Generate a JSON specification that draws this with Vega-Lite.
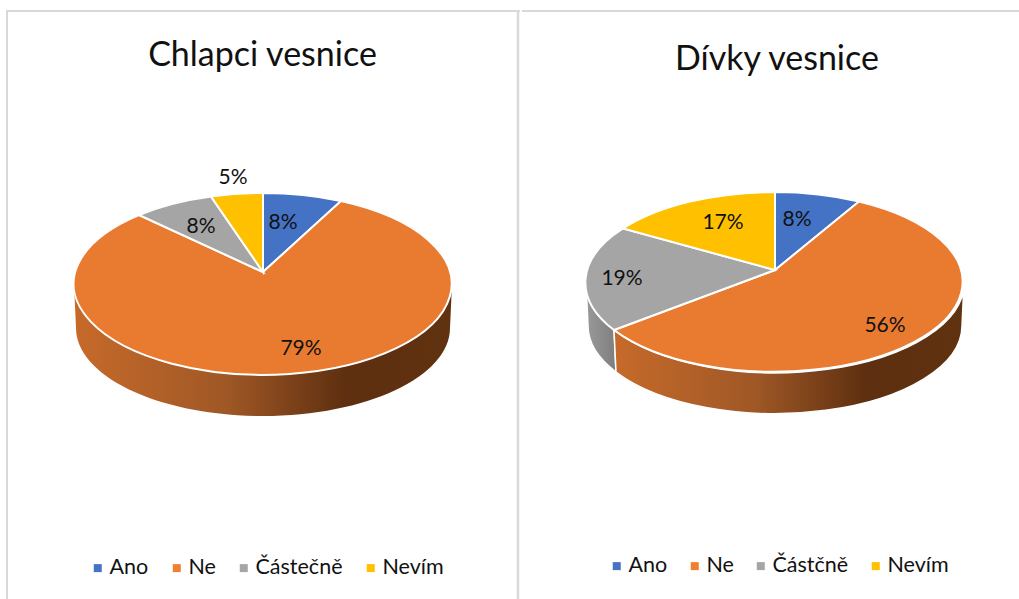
{"$schema":"https://vega.github.io/schema/vega-lite/v6.json","background":"white","padding":0,"autosize":{"type":"pad"},"spacing":0,"config":{"view":{"stroke":null},"font":"Lato","concat":{"spacing":0}},"resolve":{"scale":{"color":"independent","fill":"independent","shape":"independent"},"legend":{"color":"independent","fill":"independent","shape":"independent"}},"hconcat":[
{"width":519,"height":599,"data":{"values":[{"slice":"Ano","value":0.08},{"slice":"Ne","value":0.79},{"slice":"Částečně","value":0.08},{"slice":"Nevím","value":0.05}]},
"title":{"text":"Chlapci vesnice","font":"Lato","fontSize":34,"fontWeight":"normal","color":"#111111","anchor":"middle","frame":"group","baseline":"alphabetic","orient":"top","offset":-100,"dx":3},
"encoding":{"x":{"datum":263,"type":"quantitative","scale":{"domain":[0,519],"nice":false,"zero":false},"axis":null},"y":{"datum":272,"type":"quantitative","scale":{"domain":[599,0],"nice":false,"zero":false},"axis":null}},
"layer":[
{"data":{"values":[{}]},"mark":{"type":"rule","color":"#D9D9D9","strokeWidth":2},"encoding":{"x":{"datum":7,"type":"quantitative"},"y":{"datum":11,"type":"quantitative"},"y2":{"datum":599}}},
{"data":{"values":[{}]},"mark":{"type":"rule","color":"#D9D9D9","strokeWidth":2.5},"encoding":{"x":{"datum":518,"type":"quantitative"},"y":{"datum":11,"type":"quantitative"},"y2":{"datum":599}}},
{"data":{"values":[{}]},"mark":{"type":"rule","color":"#D9D9D9","strokeWidth":2,"strokeCap":"square"},"encoding":{"y":{"datum":11,"type":"quantitative"},"x":{"datum":7,"type":"quantitative"},"x2":{"datum":519}}},
{"transform":[{"filter":{"field":"slice","equal":"Ne"}}],"mark":{"type":"point","filled":true,"opacity":1,"size":4,"shape":"M-189,12 A189,91 0 0 0 189,12 L187,56 A187,88 0 0 1 -187,56 Z","fill":{"x1":0,"y1":0,"x2":1,"y2":0,"gradient":"linear","stops":[{"offset":0,"color":"#C66A2A"},{"offset":0.4,"color":"#A05826"},{"offset":0.72,"color":"#5E2F10"},{"offset":1,"color":"#60320F"}]}}},
{"mark":{"type":"point","filled":true,"opacity":1,"size":4,"stroke":"#FFFFFF","strokeWidth":2},"encoding":{"fill":{"field":"slice","type":"nominal","legend":null,"scale":{"domain":["Ne","Ano","Částečně","Nevím"],"range":["#E97B30","#4472C4","#A5A5A5","#FFC000"]}},"shape":{"field":"slice","type":"nominal","legend":null,"scale":{"domain":["Nevím","Ano","Ne","Částečně"],"range":["M0,0 L-52,-75.5 A189,91 0 0 1 0,-79 Z","M0,0 L0,-79 A189,91 0 0 1 78,-71 Z","M0,0 L78,-71 A189,91 0 1 1 -124,-57 Z","M0,0 L-124,-57 A189,91 0 0 1 -52,-75.5 Z"]}}}},
{"mark":{"type":"point","filled":true,"opacity":1,"size":0},"encoding":{"color":{"field":"slice","type":"nominal","scale":{"domain":["Ano","Ne","Částečně","Nevím"],"range":["#4472C4","#F08030","#A5A5A5","#FFC000"]},"legend":{"title":null,"orient":"none","legendX":87,"legendY":557,"direction":"horizontal","columns":4,"symbolType":"square","symbolSize":64,"symbolStrokeWidth":0,"symbolOpacity":1,"labelFont":"Lato","labelFontSize":21.5,"labelColor":"#111111","labelOffset":1,"columnPadding":17,"labelLimit":200}}}},
{"transform":[{"filter":{"field":"slice","equal":"Ano"}}],"mark":{"type":"text","fontSize":21,"color":"#111111","dx":20,"dy":-49,"baseline":"middle"},"encoding":{"text":{"field":"value","type":"quantitative","format":".0%"}}},
{"transform":[{"filter":{"field":"slice","equal":"Ne"}}],"mark":{"type":"text","fontSize":21,"color":"#111111","dx":38,"dy":77,"baseline":"middle"},"encoding":{"text":{"field":"value","type":"quantitative","format":".0%"}}},
{"transform":[{"filter":{"field":"slice","equal":"Částečně"}}],"mark":{"type":"text","fontSize":21,"color":"#111111","dx":-62,"dy":-45,"baseline":"middle"},"encoding":{"text":{"field":"value","type":"quantitative","format":".0%"}}},
{"transform":[{"filter":{"field":"slice","equal":"Nevím"}}],"mark":{"type":"text","fontSize":21,"color":"#111111","dx":-30,"dy":-94,"baseline":"middle"},"encoding":{"text":{"field":"value","type":"quantitative","format":".0%"}}}
]},
{"width":496,"height":599,"data":{"values":[{"slice":"Ano","value":0.08},{"slice":"Ne","value":0.56},{"slice":"Částčně","value":0.19},{"slice":"Nevím","value":0.17}]},
"title":{"text":"Dívky vesnice","font":"Lato","fontSize":34,"fontWeight":"normal","color":"#111111","anchor":"middle","frame":"group","baseline":"alphabetic","orient":"top","offset":-104,"dx":6},
"encoding":{"x":{"datum":252,"type":"quantitative","scale":{"domain":[0,496],"nice":false,"zero":false},"axis":null},"y":{"datum":270,"type":"quantitative","scale":{"domain":[599,0],"nice":false,"zero":false},"axis":null}},
"layer":[
{"data":{"values":[{}]},"mark":{"type":"rule","color":"#D9D9D9","strokeWidth":2,"strokeCap":"square"},"encoding":{"y":{"datum":11,"type":"quantitative"},"x":{"datum":0,"type":"quantitative"},"x2":{"datum":496}}},
{"transform":[{"filter":{"field":"slice","equal":"Částčně"}}],"mark":{"type":"point","filled":true,"opacity":1,"size":4,"stroke":"#FFFFFF","strokeWidth":1.5,"shape":"M-189,12 A189,90 0 0 0 -161,60 L-159,102 A187,88 0 0 1 -187,56 Z","fill":{"x1":0,"y1":0,"x2":1,"y2":0,"gradient":"linear","stops":[{"offset":0,"color":"#9A9A9A"},{"offset":1,"color":"#7E7E7E"}]}}},
{"transform":[{"filter":{"field":"slice","equal":"Ne"}}],"mark":{"type":"point","filled":true,"opacity":1,"size":4,"stroke":"#FFFFFF","strokeWidth":1.5,"shape":"M-161,60 A189,90 0 0 0 189,12 L187,56 A187,88 0 0 1 -159,102 Z","fill":{"x1":0,"y1":0,"x2":1,"y2":0,"gradient":"linear","stops":[{"offset":0,"color":"#C66A2A"},{"offset":0.4,"color":"#A05826"},{"offset":0.72,"color":"#5E2F10"},{"offset":1,"color":"#60320F"}]}}},
{"mark":{"type":"point","filled":true,"opacity":1,"size":4,"stroke":"#FFFFFF","strokeWidth":2},"encoding":{"fill":{"field":"slice","type":"nominal","legend":null,"scale":{"domain":["Ne","Ano","Částčně","Nevím"],"range":["#E97B30","#4472C4","#A5A5A5","#FFC000"]}},"shape":{"field":"slice","type":"nominal","legend":null,"scale":{"domain":["Nevím","Ano","Ne","Částčně"],"range":["M0,0 L-152,-41.5 A189,90 0 0 1 0,-78 Z","M0,0 L0,-78 A189,90 0 0 1 84,-68.5 Z","M0,0 L84,-68.5 A189,90 0 1 1 -161,60 Z","M0,0 L-161,60 A189,90 0 0 1 -152,-41.5 Z"]}}}},
{"mark":{"type":"point","filled":true,"opacity":1,"size":0},"encoding":{"color":{"field":"slice","type":"nominal","scale":{"domain":["Ano","Ne","Částčně","Nevím"],"range":["#4472C4","#F08030","#A5A5A5","#FFC000"]},"legend":{"title":null,"orient":"none","legendX":83,"legendY":555,"direction":"horizontal","columns":4,"symbolType":"square","symbolSize":64,"symbolStrokeWidth":0,"symbolOpacity":1,"labelFont":"Lato","labelFontSize":21.5,"labelColor":"#111111","labelOffset":1,"columnPadding":16,"labelLimit":200}}}},
{"transform":[{"filter":{"field":"slice","equal":"Ano"}}],"mark":{"type":"text","fontSize":21,"color":"#111111","dx":22,"dy":-50,"baseline":"middle"},"encoding":{"text":{"field":"value","type":"quantitative","format":".0%"}}},
{"transform":[{"filter":{"field":"slice","equal":"Ne"}}],"mark":{"type":"text","fontSize":21,"color":"#111111","dx":110,"dy":56,"baseline":"middle"},"encoding":{"text":{"field":"value","type":"quantitative","format":".0%"}}},
{"transform":[{"filter":{"field":"slice","equal":"Částčně"}}],"mark":{"type":"text","fontSize":21,"color":"#111111","dx":-153,"dy":9,"baseline":"middle"},"encoding":{"text":{"field":"value","type":"quantitative","format":".0%"}}},
{"transform":[{"filter":{"field":"slice","equal":"Nevím"}}],"mark":{"type":"text","fontSize":21,"color":"#111111","dx":-52,"dy":-47,"baseline":"middle"},"encoding":{"text":{"field":"value","type":"quantitative","format":".0%"}}}
]}
]}
